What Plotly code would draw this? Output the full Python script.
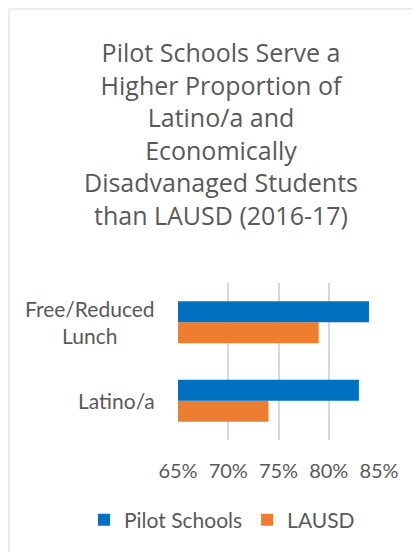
import plotly.graph_objects as go

categories = ["Latino/a", "Free/Reduced Lunch"]
category_labels = ["Latino/a", "Free/Reduced<br>Lunch"]
pilot_schools = [83, 84]
lausd = [74, 79]
x_ticks = [65, 70, 75, 80, 85]
x_tick_labels = ["65%", "70%", "75%", "80%", "85%"]
title_text = ("Pilot Schools Serve a<br>Higher Proportion of<br>Latino/a and<br>"
              "Economically<br>Disadvanaged Students<br>than LAUSD (2016-17)")

FONT = "Lato"
TITLE_FONT = "Open Sans"
TXT = "#595959"
OFF = 8  # page body margin
W, H = 412, 544
L, R, T, B = 178 - OFF, 41, 283 - OFF, 112
pw, ph = W - L - R, H - T - B

fig = go.Figure()
fig.add_trace(go.Bar(y=categories, x=lausd, orientation="h", name="LAUSD",
                     marker=dict(color="#ED7D31", line=dict(width=0)), legendrank=2))
fig.add_trace(go.Bar(y=categories, x=pilot_schools, orientation="h", name="Pilot Schools",
                     marker=dict(color="#0070C0", line=dict(width=0)), legendrank=1))

annotations = []
for c, lab in zip(categories, category_labels):
    annotations.append(dict(x=0, xref="paper", y=c, yref="y", text=lab, showarrow=False,
                            xanchor="right", yanchor="middle", xshift=-21, align="center",
                            font=dict(family=FONT, size=21, color=TXT)))

def px_x(p):
    return (p - OFF - L) / pw

def px_y(p):
    return (H - B - (p - OFF)) / ph

shapes = [
    dict(type="line", xref="paper", yref="paper", x0=px_x(9), x1=px_x(440), y0=px_y(9), y1=px_y(9),
         line=dict(color="#d9d9d9", width=1)),
    dict(type="line", xref="paper", yref="paper", x0=px_x(9), x1=px_x(9), y0=px_y(9), y1=px_y(570),
         line=dict(color="#d9d9d9", width=1)),
]

fig.update_layout(
    width=W, height=H,
    margin=dict(l=L, r=R, t=T, b=B, autoexpand=False),
    paper_bgcolor="white", plot_bgcolor="white",
    barmode="group", bargap=0.465, bargroupgap=0,
    title=dict(text=title_text, x=(221 - OFF) / W, xanchor="center", y=1 - (62 - OFF) / H,
               yanchor="top", yref="container", font=dict(family=TITLE_FONT, size=25, color=TXT)),
    xaxis=dict(range=[65, 85], tickvals=x_ticks, ticktext=x_tick_labels, showgrid=True,
               gridcolor="#d9d9d9", gridwidth=1.5, zeroline=False, showline=False, ticks="",
               tickfont=dict(family=FONT, size=20, color=TXT), ticklabelstandoff=17),
    yaxis=dict(type="category", categoryorder="array", categoryarray=categories,
               range=[-0.5, 1.5], showticklabels=False, showgrid=False, zeroline=False,
               showline=False, ticks=""),
    legend=dict(orientation="h", x=px_x(84), xanchor="left",
                y=px_y(520), yanchor="middle",
                font=dict(family=FONT, size=21, color=TXT), itemwidth=30),
    annotations=annotations,
    shapes=shapes,
    showlegend=True,
)

fig.write_html("out.html")
